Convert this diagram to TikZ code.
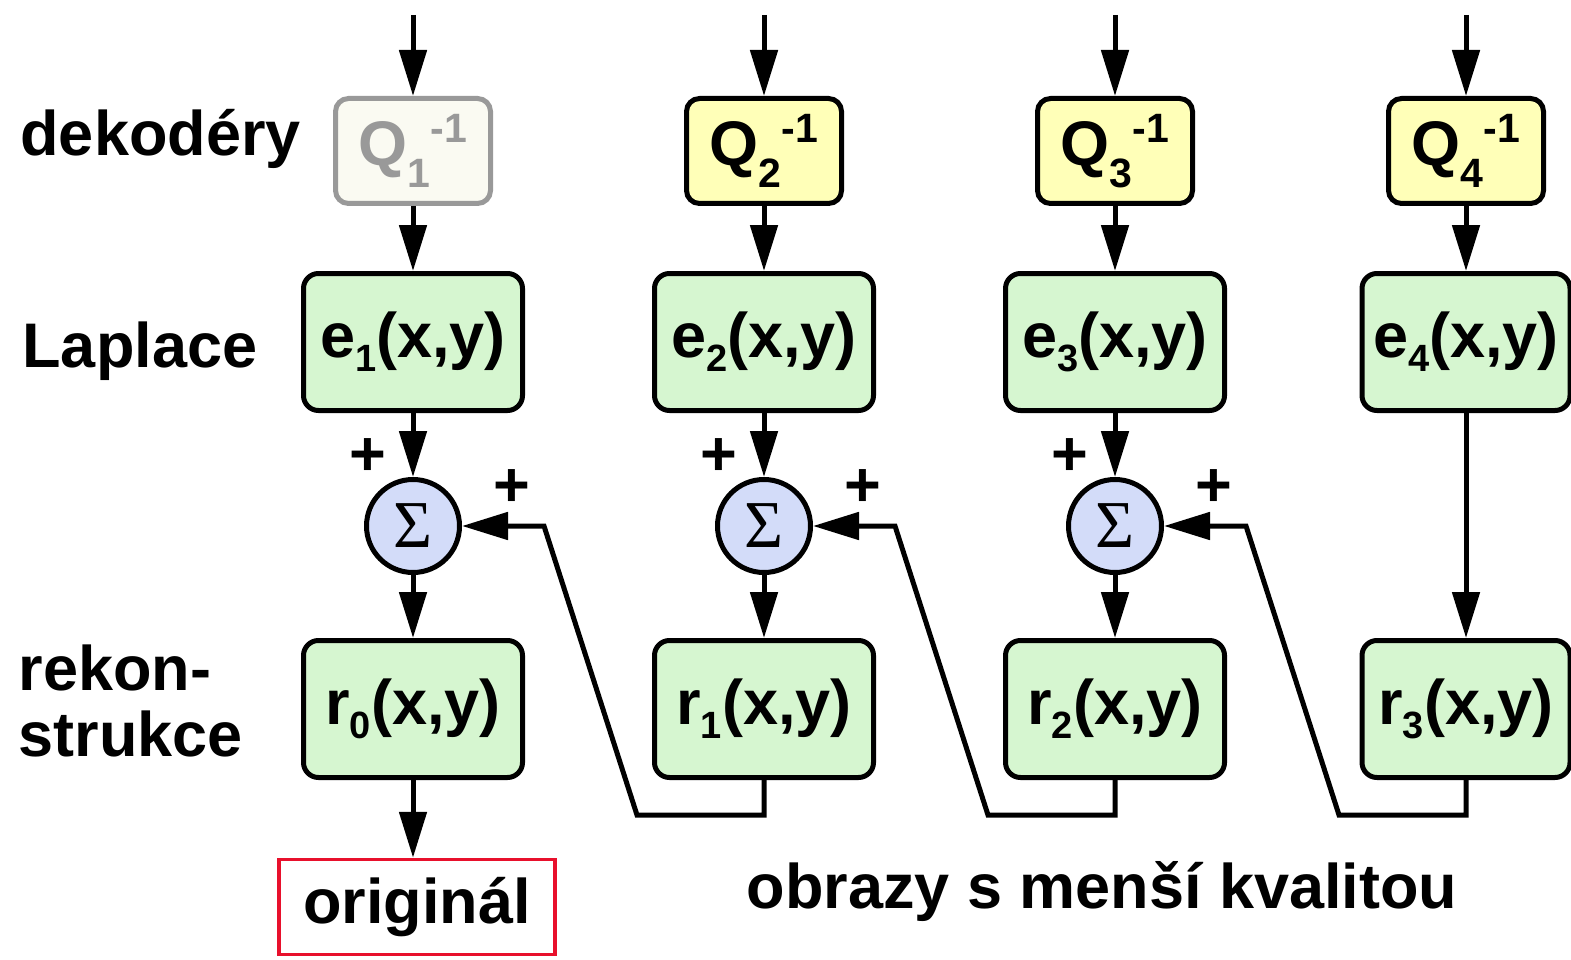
\documentclass[tikz,border=0pt]{standalone}
\usepackage{fontspec}
\setmainfont{Liberation Sans}
\newfontfamily\sigmafont{Liberation Serif}
\usetikzlibrary{arrows.meta, positioning, calc}
\definecolor{qyellow}{HTML}{FFFFB8}
\definecolor{qpale}{HTML}{FAFAF2}
\definecolor{egreen}{HTML}{D6F6D0}
\definecolor{sblue}{HTML}{D3DCF9}
\definecolor{cgrey}{HTML}{999999}
\definecolor{cred}{HTML}{E8102C}
\newcommand{\subidx}[1]{\raisebox{-0.22em}{\fontsize{38}{38}\selectfont #1}}
\newcommand{\qlabel}[1]{Q\raisebox{-0.35em}{\fontsize{41}{41}\selectfont #1}\raisebox{0.36em}{\fontsize{41}{41}\selectfont -1}}
\tikzset{
  every picture/.style={font=\fontsize{63}{66}\selectfont\bfseries, line width=5pt, x=1pt, y=-1pt},
  qon/.style={draw=black, fill=qyellow, text=black},
  qoff/.style={draw=cgrey, fill=qpale, text=cgrey},
  qbox/.style={rounded corners=13pt, minimum width=155pt, minimum height=105pt, inner sep=0pt},
  ebox/.style={draw, fill=egreen, rounded corners=15pt, minimum width=#1, minimum height=137pt, inner sep=0pt},
  ebox/.default=219pt,
  sumnode/.style={circle, draw, fill=sblue, minimum size=93pt, inner sep=0pt, font=\sigmafont\mdseries\fontsize{67}{67}\selectfont},
  arrow/.style={-{Triangle[length=46pt, width=27pt]}},
  lab/.style={inner sep=0pt, anchor=base west},
  plus/.style={inner sep=0pt},
}
\begin{document}
\begin{tikzpicture}
  \useasboundingbox (0,0) rectangle (1571,960);
  % dekodery and Laplace levels
  \foreach \x/\qs/\bw [count=\i] in {413/qoff/219pt, 764/qon/219pt, 1115/qon/219pt, 1466/qon/208pt} {
    \coordinate (in\i) at (\x,15);
    \node[qbox, \qs] (q\i) at (\x,151) {\qlabel{\i}};
    \node[ebox=\bw] (e\i) at (\x,342) {e\subidx{\i}(x,y)};
    \draw[arrow] (in\i) -- (q\i);
    \draw[arrow] (q\i) -- (e\i);
  }
  % reconstructed images
  \foreach \x/\bw [count=\j from 0] in {413/219pt, 764/219pt, 1115/219pt, 1466/208pt}
    \node[ebox=\bw] (r\j) at (\x,709) {r\subidx{\j}(x,y)};
  % summation
  \foreach \x [count=\i] in {413, 764, 1115} {
    \pgfmathtruncatemacro{\j}{\i-1}
    \node[sumnode] (sum\i) at (\x,526) {Σ};
    \node[plus] (pl\i) at ($(sum\i)+(-45,-69)$) {+};
    \node[plus] (pr\i) at ($(sum\i)+(99,-38)$) {+};
    \draw[arrow] (e\i) -- (sum\i);
    \draw[arrow] (sum\i) -- (r\j);
    \draw[arrow] (r\i.south) -- ++(0,35) -- ++(-127,0) -- ($(sum\i.east)+(82,0)$) -- (sum\i.east);
  }
  \draw[arrow] (e4) -- (r3);
  % outputs
  \node[draw=cred, line width=3.5pt, minimum width=276pt, minimum height=95pt, inner sep=0pt] (orig) at (417,907) {originál};
  \draw[arrow] (r0.south) -- (r0.south |- orig.north);
  \node[inner sep=0pt, anchor=base] (worse) at (1102,908) {obrazy s menší kvalitou};
  % row labels
  \node[lab] (ldek) at (18,156) {dekodéry};
  \node[lab] (llap) at (20,367) {Laplace};
  \node[inner sep=0pt, anchor=north west, align=left] (lrek) at (16,642) {rekon-\\strukce};
\end{tikzpicture}
\end{document}
